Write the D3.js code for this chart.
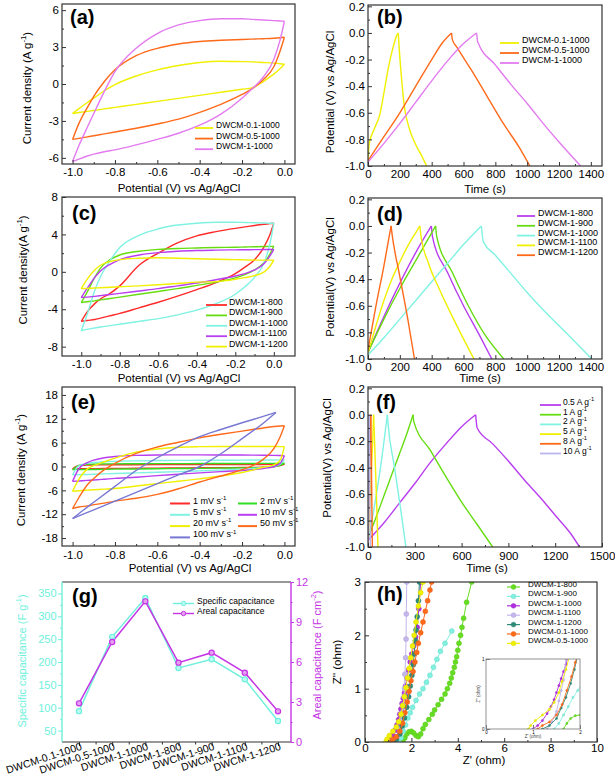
<!DOCTYPE html>
<html><head><meta charset="utf-8">
<script src="https://cdnjs.cloudflare.com/ajax/libs/d3/7.8.5/d3.min.js"></script>
<style>
html,body{margin:0;padding:0;background:#fff;}
svg text{font-family:"Liberation Sans",Arial,Helvetica,sans-serif;}
</style></head>
<body><svg id="chart" width="615" height="775"></svg>
<script>
// ================= DATA =================
const potTicks = [-1.0,-0.8,-0.6,-0.4,-0.2,0.0];
const potMinor = [-0.9,-0.7,-0.5,-0.3,-0.1];
const gcdVTicks = [-1.0,-0.8,-0.6,-0.4,-0.2,0.0,0.2];
const gcdVMinor = [-0.9,-0.7,-0.5,-0.3,-0.1,0.1];
const timeTicks = [0,200,400,600,800,1000,1200,1400];
const timeMinor = [100,300,500,700,900,1100,1300];
const aYTicks = [-6,-3,0,3,6], aYMinor = [-4.5,-1.5,1.5,4.5];
const cYTicks = [-8,-4,0,4,8], cYMinor = [-6,-2,2,6];
const eYTicks = [-18,-12,-6,0,6,12,18], eYMinor = [-15,-9,-3,3,9,15];
const fXTicks = [0,300,600,900,1200,1500], fXMinor = [150,450,750,1050,1350];
const gLTicks = [50,100,150,200,250,300,350], gLMinor = [75,125,175,225,275,325];
const gRTicks = [0,3,6,9,12], gRMinor = [1.5,4.5,7.5,10.5];
const hXTicks = [0,2,4,6,8,10], hXMinor = [1,3,5,7,9];
const hYTicks = [0,1,2,3], hYMinor = [0.5,1.5,2.5];

const cvV = [-1.0,-0.97,-0.93,-0.9,-0.85,-0.8,-0.7,-0.6,-0.5,-0.4,-0.3,-0.2,-0.15,-0.1,-0.05,-0.02,0.0];

// (a)
const aNames = ["DWCM-0.1-1000","DWCM-0.5-1000","DWCM-1-1000"];
const aColors = ["#f0f000","#ff6a1a","#e37bf0"];
const aUp01 = [-2.4,-2.0,-1.5,-1.15,-0.55,-0.05,0.65,1.15,1.5,1.75,1.85,1.82,1.8,1.75,1.7,1.65,1.6];
const aLo01 = [-2.4,-2.32,-2.22,-2.15,-2.02,-1.9,-1.66,-1.41,-1.17,-0.92,-0.67,-0.43,-0.3,0.2,0.8,1.25,1.6];
const aUp05 = [-4.5,-3.2,-1.9,-1.0,0.2,1.15,2.3,2.9,3.25,3.45,3.55,3.62,3.65,3.68,3.72,3.76,3.8];
const aLo05 = [-4.5,-4.42,-4.3,-4.2,-4.05,-3.9,-3.6,-3.25,-2.85,-2.3,-1.65,-0.85,-0.35,0.35,1.4,2.7,3.8];
const aUp1 = [-6.3,-5.0,-3.5,-2.4,-0.6,1.0,2.9,4.1,4.8,5.15,5.3,5.3,5.25,5.2,5.15,5.12,5.1];
const aLo1 = [-6.3,-6.1,-5.85,-5.7,-5.5,-5.35,-4.95,-4.5,-4.0,-3.35,-2.45,-1.15,-0.35,0.55,2.0,3.6,5.1];

// (b)
const bT01 = [0,8,40,75,100,128,155,180,190,198,210,228,260,300,340,368];
const bV01 = [-0.95,-0.83,-0.72,-0.61,-0.45,-0.26,-0.12,-0.02,0,-0.15,-0.33,-0.55,-0.72,-0.84,-0.93,-1.0];
const bT05 = [0,100,200,300,400,470,525,530,560,650,750,850,950,1017];
const bV05 = [-0.96,-0.78,-0.6,-0.4,-0.2,-0.07,0,-0.05,-0.11,-0.28,-0.48,-0.68,-0.86,-1.0];
const bT1 = [0,100,200,300,400,500,600,682,690,800,900,1000,1100,1200,1336];
const bV1 = [-0.97,-0.83,-0.68,-0.52,-0.36,-0.21,-0.08,0,-0.07,-0.24,-0.39,-0.53,-0.68,-0.82,-1.0];

// (c)
const cNames = ["DWCM-1-800","DWCM-1-900","DWCM-1-1000","DWCM-1-1100","DWCM-1-1200"];
const cColors = ["#ff2a2a","#66dd11","#7ff2e2","#b83ef0","#f0f000"];
const cUp800 = [-5.3,-4.3,-3.4,-2.9,-2.3,-1.5,0.7,2.0,3.1,3.85,4.3,4.65,4.8,4.95,5.08,5.15,5.2];
const cLo800 = [-5.3,-5.2,-5.1,-4.95,-4.7,-4.45,-3.85,-3.25,-2.6,-1.9,-1.15,-0.2,0.5,1.3,2.7,4.0,5.2];
const cUp900 = [-3.3,-2.2,-0.6,0.4,1.3,1.8,2.2,2.4,2.5,2.55,2.6,2.62,2.65,2.68,2.7,2.72,2.75];
const cLo900 = [-3.3,-3.2,-3.1,-3.0,-2.85,-2.7,-2.4,-2.1,-1.8,-1.45,-1.1,-0.65,-0.3,0.2,1.0,1.9,2.75];
const cUp1000 = [-6.3,-4.6,-2.0,-0.5,1.2,2.6,3.9,4.6,5.0,5.2,5.3,5.3,5.28,5.25,5.22,5.2,5.2];
const cLo1000 = [-6.3,-6.15,-6.0,-5.9,-5.75,-5.6,-5.3,-5.0,-4.6,-4.1,-3.4,-2.4,-1.6,-0.6,1.0,3.0,5.2];
const cUp1100 = [-2.75,-1.8,-0.6,0.1,0.8,1.3,1.8,2.05,2.2,2.28,2.32,2.35,2.36,2.37,2.38,2.39,2.4];
const cLo1100 = [-2.75,-2.7,-2.62,-2.55,-2.42,-2.3,-2.05,-1.8,-1.5,-1.2,-0.85,-0.45,-0.2,0.2,0.9,1.7,2.4];
const cUp1200 = [-1.8,-0.8,0.2,0.7,1.1,1.3,1.45,1.5,1.45,1.4,1.35,1.3,1.28,1.25,1.25,1.25,1.25];
const cLo1200 = [-1.8,-1.77,-1.73,-1.7,-1.65,-1.6,-1.5,-1.38,-1.25,-1.1,-1.05,-0.8,-0.62,-0.4,0.0,0.6,1.25];

// (d)
const dColors = ["#b83ef0","#66dd11","#7ff2e2","#f0f000","#ff6a1a"];
const dT800 = [0,100,200,300,398,405,500,600,700,778];
const dV800 = [-0.95,-0.68,-0.43,-0.2,0,-0.08,-0.35,-0.6,-0.82,-1.0];
const dT900 = [0,100,200,300,425,432,530,630,730,853];
const dV900 = [-0.95,-0.7,-0.47,-0.26,0,-0.08,-0.35,-0.6,-0.81,-1.0];
const dT1000 = [0,100,200,300,400,500,600,712,725,800,900,1000,1100,1200,1300,1406];
const dV1000 = [-0.97,-0.84,-0.7,-0.56,-0.42,-0.28,-0.14,0,-0.12,-0.22,-0.36,-0.5,-0.63,-0.75,-0.87,-1.0];
const dT1100 = [0,50,100,150,200,250,300,326,332,380,450,550,666];
const dV1100 = [-0.95,-0.75,-0.56,-0.4,-0.27,-0.15,-0.05,0,-0.07,-0.28,-0.48,-0.73,-1.0];
const dT1200 = [0,50,100,145,150,200,250,292];
const dV1200 = [-0.93,-0.6,-0.3,0,-0.05,-0.38,-0.7,-1.0];

// (e)
const eRates = [1,2,5,10,20,50,100];
const eColors = ["#ff2a2a","#33dd22","#7ff2e2","#b83ef0","#f0f000","#ff6a1a","#7777d4"];
const eUp1 = [-0.6,0.25,0.38,0.4,0.42,0.43,0.45,0.46,0.47,0.48,0.49,0.5,0.51,0.52,0.53,0.54,0.55];
const eLo1 = [-0.6,-0.58,-0.56,-0.54,-0.51,-0.48,-0.44,-0.4,-0.36,-0.33,-0.3,-0.27,-0.24,-0.18,0.0,0.25,0.55];
const eUp2 = [-0.8,0.3,0.55,0.6,0.65,0.67,0.7,0.72,0.73,0.74,0.75,0.76,0.77,0.78,0.79,0.8,0.8];
const eLo2 = [-0.8,-0.78,-0.76,-0.74,-0.7,-0.67,-0.62,-0.57,-0.52,-0.47,-0.42,-0.35,-0.3,-0.22,-0.05,0.3,0.8];
const eUp5 = [-2.1,0.2,0.8,1.0,1.2,1.3,1.42,1.5,1.53,1.56,1.58,1.6,1.62,1.63,1.65,1.66,1.67];
const eLo5 = [-2.1,-2.05,-2.0,-1.95,-1.85,-1.75,-1.6,-1.45,-1.3,-1.1,-0.9,-0.65,-0.5,-0.3,0.0,0.6,1.67];
const eUp10 = [-3.75,-0.5,1.0,1.6,2.2,2.5,2.8,2.9,2.92,2.92,2.9,2.88,2.86,2.83,2.8,2.75,2.7];
const eLo10 = [-3.75,-3.65,-3.5,-3.4,-3.2,-3.0,-2.7,-2.3,-1.95,-1.6,-1.3,-1.0,-0.8,-0.5,0.0,0.8,2.7];
const eUp20 = [-6.25,-3.2,-0.6,0.2,1.2,2.1,3.6,4.4,4.85,5.0,5.05,5.05,5.05,5.05,5.05,5.0,5.0];
const eLo20 = [-6.25,-6.1,-5.95,-5.85,-5.7,-5.55,-4.9,-4.3,-3.7,-3.1,-2.4,-1.5,-0.9,-0.2,0.4,1.6,5.0];
const eUp50 = [-10.6,-7.8,-4.6,-3.0,-0.8,0.8,3.3,4.9,6.1,7.2,8.1,8.9,9.3,9.7,10.05,10.2,10.25];
const eLo50 = [-10.6,-10.2,-9.9,-9.6,-9.2,-8.7,-8.0,-7.0,-5.6,-3.9,-2.4,-0.8,0.2,1.8,4.5,7.5,10.25];
const eV100 = [-1.0,-0.95,-0.9,-0.8,-0.7,-0.6,-0.5,-0.4,-0.3,-0.2,-0.1,-0.04];
const eUp100 = [-13.1,-11.0,-9.0,-5.0,-1.0,2.2,5.0,7.5,9.3,11.0,12.6,13.6];
const eLo100 = [-13.1,-12.0,-10.9,-8.7,-6.5,-4.3,-2.1,0.0,3.2,7.0,10.9,13.6];

// (f)
const fRates = ["0.5","1","2","5","8","10"];
const fColors = ["#b83ef0","#66dd11","#7ff2e2","#f0f000","#ff6a1a","#b9b6f0"];
const fT05 = [0,100,200,300,400,500,600,690,700,800,900,1000,1100,1200,1300,1356];
const fV05 = [-0.95,-0.82,-0.67,-0.52,-0.36,-0.22,-0.09,0,-0.1,-0.22,-0.35,-0.49,-0.62,-0.76,-0.9,-1.0];
const fT1 = [0,50,100,150,200,250,289,293,400,500,600,700,799];
const fV1 = [-0.93,-0.78,-0.62,-0.46,-0.3,-0.14,0,-0.05,-0.27,-0.47,-0.66,-0.83,-1.0];
const fT2 = [0,40,80,124,128,170,210,243];
const fV2 = [-0.95,-0.7,-0.4,0,-0.06,-0.4,-0.72,-1.0];
const fT5 = [0,15,30,36,45,55,64];
const fV5 = [-0.97,-0.6,-0.2,0,-0.3,-0.65,-1.0];
const fT8 = [0,10,18,22,28];
const fV8 = [-0.97,-0.5,0,-0.4,-1.0];
const fT10 = [0,8,15];
const fV10 = [-0.98,0,-1.0];

// (g)
const gCats = ["DWCM-0.1-1000","DWCM-0.5-1000","DWCM-1-1000","DWCM-1-800","DWCM-1-900","DWCM-1-1100","DWCM-1-1200"];
const gSpecific = [92.5,255,340,187,206,162,71];
const gAreal = [2.9,7.5,10.55,5.95,6.7,5.2,2.3];

// (h)
const hNames = ["DWCM-1-800","DWCM-1-900","DWCM-1-1000","DWCM-1-1100","DWCM-1-1200","DWCM-0.1-1000","DWCM-0.5-1000"];
const hColors = ["#66dd22","#80f0e0","#b02ee0","#c4b6ec","#2e8b78","#ff6a1a","#f0f000"];
const hX800 = [1.65,1.72,1.8,1.9,2.0,2.1,2.2,2.3,2.4,2.5,2.6,2.75,2.9,3.0,3.15,3.3,3.45,3.55,3.65,3.72,3.78,3.85,3.9,3.95,4.0,4.05,4.12,4.18,4.25,4.38,4.6];
const hY800 = [0,0.08,0.15,0.19,0.2,0.17,0.12,0.1,0.15,0.25,0.33,0.42,0.52,0.6,0.7,0.8,0.9,1.0,1.1,1.2,1.3,1.4,1.5,1.6,1.72,1.85,2.0,2.15,2.32,2.62,3.0];
const hX900 = [1.45,1.55,1.65,1.75,1.85,1.95,2.05,2.2,2.35,2.5,2.65,2.8,2.95,3.1,3.25,3.45,3.74];
const hY900 = [0,0.08,0.2,0.32,0.45,0.55,0.65,0.78,0.9,1.0,1.12,1.25,1.4,1.55,1.7,1.85,2.08];
const hX1000 = [1.0,1.1,1.2,1.3,1.38,1.45,1.5,1.55,1.6,1.65,1.7,1.75,1.8,1.88,1.95,2.02,2.1,2.18,2.25,2.32,2.4];
const hY1000 = [0,0.05,0.12,0.22,0.32,0.42,0.52,0.62,0.72,0.82,0.92,1.05,1.2,1.35,1.5,1.65,1.8,1.97,2.15,2.5,3.0];
const hX1100 = [1.3,1.4,1.5,1.55,1.6,1.65,1.68,1.7,1.72,1.75,1.77,1.78,1.8];
const hY1100 = [0,0.1,0.25,0.4,0.55,0.7,0.85,1.0,1.27,1.58,1.93,2.4,3.0];
const hX1200 = [1.2,1.35,1.5,1.6,1.7,1.8,1.88,1.95,2.02,2.08,2.12,2.17,2.2,2.25,2.3,2.35];
const hY1200 = [0,0.05,0.15,0.3,0.45,0.65,0.85,1.05,1.25,1.45,1.65,1.9,2.1,2.35,2.65,3.0];
const hX01 = [1.1,1.2,1.35,1.5,1.62,1.72,1.82,1.9,1.98,2.07,2.15,2.23,2.3,2.4,2.5,2.6,2.7,2.8,2.87];
const hY01 = [0,0.05,0.1,0.2,0.35,0.55,0.75,0.95,1.15,1.32,1.5,1.68,1.85,2.05,2.25,2.45,2.65,2.85,3.0];
const hX05 = [0.9,0.95,1.05,1.2,1.35,1.45,1.55,1.62,1.7,1.77,1.83,1.9,1.97,2.05,2.12,2.2,2.3,2.4,2.5];
const hY05 = [0,0.05,0.12,0.2,0.28,0.38,0.52,0.68,0.85,1.02,1.2,1.38,1.58,1.8,2.0,2.25,2.55,2.8,3.0];

// ================= DRAWING =================
const svg = d3.select("#chart");
const FS = 11.5;
const FRAME = "#333";

function makePanel(id, L, R, T, B, xd, yd) {
  const x = d3.scaleLinear().domain(xd).range([L, R]);
  const y = d3.scaleLinear().domain(yd).range([B, T]);
  svg.append("clipPath").attr("id", "cp" + id).append("rect")
    .attr("x", L).attr("y", T).attr("width", R - L).attr("height", B - T);
  const plot = svg.append("g").attr("clip-path", `url(#cp${id})`);
  return {L, R, T, B, x, y, plot};
}
function frame(P, color = FRAME, w = 1.2) {
  svg.append("rect").attr("x", P.L).attr("y", P.T).attr("width", P.R - P.L).attr("height", P.B - P.T)
    .attr("fill", "none").attr("stroke", color).attr("stroke-width", w);
}
function axisB(P, scale, major, minor, fmt, pad, dir = -1, size = FS, color = FRAME) {
  const g = svg.append("g").attr("transform", `translate(0,${P.B})`)
    .call(d3.axisBottom(scale).tickValues(major).tickFormat(fmt).tickSizeInner(4 * dir).tickSizeOuter(0).tickPadding(pad));
  g.select(".domain").remove();
  g.attr("font-size", size);
  g.selectAll("line").attr("stroke", color);
  if (minor) {
    const m = svg.append("g").attr("transform", `translate(0,${P.B})`)
      .call(d3.axisBottom(scale).tickValues(minor).tickFormat("").tickSizeInner(2 * dir).tickSizeOuter(0));
    m.select(".domain").remove(); m.selectAll("line").attr("stroke", color);
  }
  return g;
}
function axisL(P, scale, major, minor, fmt, pad, dir = -1, size = FS, color = FRAME) {
  const g = svg.append("g").attr("transform", `translate(${P.L},0)`)
    .call(d3.axisLeft(scale).tickValues(major).tickFormat(fmt).tickSizeInner(4 * dir).tickSizeOuter(0).tickPadding(pad));
  g.select(".domain").remove();
  g.attr("font-size", size);
  g.selectAll("line").attr("stroke", color);
  if (minor) {
    const m = svg.append("g").attr("transform", `translate(${P.L},0)`)
      .call(d3.axisLeft(scale).tickValues(minor).tickFormat("").tickSizeInner(2 * dir).tickSizeOuter(0));
    m.select(".domain").remove(); m.selectAll("line").attr("stroke", color);
  }
  return g;
}
function addParts(t, parts, size) {
  let back = 0;
  parts.forEach(p => {
    if (typeof p === "string") { t.append("tspan").attr("dy", back).text(p); back = 0; }
    else { t.append("tspan").attr("font-size", size * 0.68).attr("dy", -size * 0.42).text(p.sup); back = size * 0.42; }
  });
}
function htitle(cx, by, parts, size = FS, color = "#000") {
  const t = svg.append("text").attr("x", cx).attr("y", by).attr("text-anchor", "middle")
    .attr("font-size", size).attr("fill", color);
  addParts(t, parts, size);
}
function vtitle(bx, cy, parts, size = FS, color = "#000") {
  const t = svg.append("text").attr("transform", `translate(${bx},${cy}) rotate(-90)`)
    .attr("text-anchor", "middle").attr("font-size", size).attr("fill", color);
  addParts(t, parts, size);
}
function plabel(x, y, s) {
  svg.append("text").attr("x", x).attr("y", y).attr("font-size", 20).attr("font-weight", "bold").text(s);
}
function drawCV(P, V, up, lo, color, lw = 1.4) {
  const ln = d3.line().x(d => P.x(d[0])).y(d => P.y(d[1])).curve(d3.curveMonotoneX);
  [up, lo].forEach(arr => {
    P.plot.append("path").attr("d", ln(V.map((v, i) => [v, arr[i]])))
      .attr("fill", "none").attr("stroke", color).attr("stroke-width", lw);
  });
}
function drawGCD(P, T, Vv, color, lw = 1.4) {
  const pk = d3.maxIndex(Vv);
  const pts = T.map((t, i) => [t, Vv[i]]);
  const ln = d3.line().x(d => P.x(d[0])).y(d => P.y(d[1])).curve(d3.curveMonotoneX);
  [pts.slice(0, pk + 1), pts.slice(pk)].forEach(seg => {
    P.plot.append("path").attr("d", ln(seg)).attr("fill", "none").attr("stroke", color).attr("stroke-width", lw);
  });
}
function legendLine(x1, x2, tx, cy, color, parts, size, lw = 1.8) {
  svg.append("line").attr("x1", x1).attr("x2", x2).attr("y1", cy).attr("y2", cy)
    .attr("stroke", color).attr("stroke-width", lw);
  const t = svg.append("text").attr("x", tx).attr("y", cy).attr("dy", "0.35em").attr("font-size", size);
  addParts(t, Array.isArray(parts) ? parts : [parts], size);
}
const f1 = d => d.toFixed(1);
const f0 = d => String(d);
const curTitle = ["Current density (A g", {sup: "-1"}, ")"];

// ---------- (a) ----------
const A = makePanel("a", 62, 295, 4, 164, [-1.05, 0.05], [-6.5, 6.5]);
[[aUp01, aLo01], [aUp05, aLo05], [aUp1, aLo1]].forEach((s, i) => drawCV(A, cvV, s[0], s[1], aColors[i]));
frame(A);
axisB(A, A.x, potTicks, potMinor, f1, 4);
axisL(A, A.y, aYTicks, aYMinor, f0, 3);
vtitle(31, 88, curTitle);
htitle(179, 192, ["Potential (V) vs Ag/AgCl"]);
aNames.forEach((n, i) => legendLine(195, 213, 216, 128 + i * 10.6, aColors[i], n, 8.5));
plabel(70, 24, "(a)");

// ---------- (b) ----------
const B = makePanel("b", 368, 602, 5, 166, [0, 1470], [-1.0, 0.21]);
[[bT01, bV01], [bT05, bV05], [bT1, bV1]].forEach((s, i) => drawGCD(B, s[0], s[1], aColors[i]));
frame(B);
axisB(B, B.x, timeTicks, timeMinor, f0, 4);
axisL(B, B.y, gcdVTicks, gcdVMinor, f1, 3);
vtitle(334, 92, ["Potential (V) vs Ag/AgCl"]);
htitle(485, 193, ["Time (s)"]);
aNames.forEach((n, i) => legendLine(500, 519, 522, 43 + i * 10, aColors[i], n, 9));
plabel(377, 24, "(b)");

// ---------- (c) ----------
const C = makePanel("c", 62, 295, 197, 356, [-1.1, 0.11], [-9, 8]);
[[cUp800, cLo800], [cUp900, cLo900], [cUp1000, cLo1000], [cUp1100, cLo1100], [cUp1200, cLo1200]]
  .forEach((s, i) => drawCV(C, cvV, s[0], s[1], cColors[i]));
frame(C);
axisB(C, C.x, potTicks, potMinor, f1, 4);
axisL(C, C.y, cYTicks, cYMinor, f0, 4);
vtitle(27, 270, ["Current density(A g", {sup: "-1"}, ")"]);
htitle(179, 382, ["Potential (V) vs Ag/AgCl"]);
cNames.forEach((n, i) => legendLine(206, 227, 229, 305 + i * 10.4, cColors[i], n, 8.8));
plabel(72, 220, "(c)");

// ---------- (d) ----------
const D = makePanel("d", 368, 602, 198, 359, [0, 1470], [-1.0, 0.21]);
[[dT800, dV800], [dT900, dV900], [dT1000, dV1000], [dT1100, dV1100], [dT1200, dV1200]]
  .forEach((s, i) => drawGCD(D, s[0], s[1], dColors[i]));
frame(D);
axisB(D, D.x, timeTicks, timeMinor, f0, 4);
axisL(D, D.y, gcdVTicks, gcdVMinor, f1, 3);
vtitle(334, 277, ["Potential(V) vs Ag/AgCl"]);
htitle(480, 382, ["Time (s)"]);
cNames.forEach((n, i) => legendLine(517, 535, 538, 216 + i * 9.8, dColors[i], n, 9));
plabel(377, 221, "(d)");

// ---------- (e) ----------
const E = makePanel("e", 62, 295, 387, 546, [-1.05, 0.05], [-20, 20]);
[[eUp1, eLo1], [eUp2, eLo2], [eUp5, eLo5], [eUp10, eLo10], [eUp20, eLo20], [eUp50, eLo50]]
  .forEach((s, i) => drawCV(E, cvV, s[0], s[1], eColors[i]));
drawCV(E, eV100, eUp100, eLo100, eColors[6]);
frame(E);
axisB(E, E.x, potTicks, potMinor, f1, 5);
axisL(E, E.y, eYTicks, eYMinor, f0, 4);
vtitle(25, 470, curTitle);
htitle(190, 572, ["Potential (V) vs Ag/AgCl"]);
eRates.forEach((r, i) => {
  const col = i % 2, row = Math.floor(i / 2);
  const x1 = col ? 238 : 170, x2 = col ? 257 : 190, tx = col ? 260 : 193;
  legendLine(x1, x2, tx, 503.5 + row * 11.3, eColors[i], [r + " mV s", {sup: "-1"}], 9, 2);
});
plabel(71, 409, "(e)");

// ---------- (f) ----------
const F = makePanel("f", 368, 602, 387, 547, [0, 1500], [-1.0, 0.21]);
[[fT05, fV05], [fT1, fV1], [fT2, fV2], [fT5, fV5], [fT8, fV8], [fT10, fV10]]
  .forEach((s, i) => drawGCD(F, s[0], s[1], fColors[i]));
frame(F);
axisB(F, F.x, fXTicks, fXMinor, f0, 4.5);
axisL(F, F.y, gcdVTicks, gcdVMinor, f1, 3);
vtitle(331, 458, ["Potential(V) vs Ag/AgCl"]);
htitle(487, 572, ["Time (s)"]);
fRates.forEach((r, i) => legendLine(540, 561, 563, 405 + i * 9.7, fColors[i], [r + " A g", {sup: "-1"}], 8.5, 1.8));
plabel(376, 409, "(f)");

// ---------- (g) ----------
const G = {L: 62, R: 291, T: 582, B: 742};
const gx = d3.scalePoint().domain(gCats).range([79, 278]);
const gxl = d3.scaleLinear().domain([0, 6]).range([79, 278]);
const gyL = d3.scaleLinear().domain([25, 375]).range([G.B, G.T]);
const gyR = d3.scaleLinear().domain([0, 12]).range([G.B, G.T]);
const CYAN = "#6ff0dc", MAG = "#c534e6";
const lnS = d3.line().x((d, i) => gx(gCats[i])).y(d => gyL(d));
const lnA = d3.line().x((d, i) => gx(gCats[i])).y(d => gyR(d));
svg.append("path").attr("d", lnS(gSpecific)).attr("fill", "none").attr("stroke", CYAN).attr("stroke-width", 1.5);
svg.append("path").attr("d", lnA(gAreal)).attr("fill", "none").attr("stroke", MAG).attr("stroke-width", 1.5);
svg.selectAll(".gs").data(gSpecific).enter().append("circle")
  .attr("cx", (d, i) => gx(gCats[i])).attr("cy", d => gyL(d)).attr("r", 2.6)
  .attr("fill", "#b8fbf1").attr("stroke", CYAN).attr("stroke-width", 1.2);
svg.selectAll(".ga").data(gAreal).enter().append("circle")
  .attr("cx", (d, i) => gx(gCats[i])).attr("cy", d => gyR(d)).attr("r", 2.6)
  .attr("fill", "#e6a0f2").attr("stroke", MAG).attr("stroke-width", 1.2);
svg.append("line").attr("x1", G.L).attr("x2", G.R).attr("y1", G.T).attr("y2", G.T).attr("stroke", FRAME).attr("stroke-width", 1.2);
svg.append("line").attr("x1", G.L).attr("x2", G.R).attr("y1", G.B).attr("y2", G.B).attr("stroke", FRAME).attr("stroke-width", 1.2);
svg.append("line").attr("x1", G.L).attr("x2", G.L).attr("y1", G.T).attr("y2", G.B).attr("stroke", CYAN).attr("stroke-width", 1.4);
svg.append("line").attr("x1", G.R).attr("x2", G.R).attr("y1", G.T).attr("y2", G.B).attr("stroke", MAG).attr("stroke-width", 1.4);
const gb = axisB(G, gx, gCats, null, d => d, 4, 1, 10.5);
svg.append("g").attr("transform", `translate(0,${G.B})`)
  .call(d3.axisBottom(gxl).tickValues([0.5, 1.5, 2.5, 3.5, 4.5, 5.5]).tickFormat("").tickSizeInner(2.5).tickSizeOuter(0))
  .call(g => { g.select(".domain").remove(); g.selectAll("line").attr("stroke", FRAME); });
gb.selectAll("text").attr("text-anchor", "end").attr("dy", null).attr("y", 0)
  .attr("transform", "translate(3,7.5) rotate(-18)");
const gl = axisL(G, gyL, gLTicks, gLMinor, f0, 1.5, 1, 11, CYAN);
gl.selectAll("text").attr("fill", CYAN);
const gr = svg.append("g").attr("transform", `translate(${G.R},0)`)
  .call(d3.axisRight(gyR).tickValues(gRTicks).tickSizeInner(3).tickSizeOuter(0).tickPadding(2));
gr.select(".domain").remove();
gr.attr("font-size", 11);
gr.selectAll("line").attr("stroke", MAG);
gr.selectAll("text").attr("fill", MAG);
svg.append("g").attr("transform", `translate(${G.R},0)`)
  .call(d3.axisRight(gyR).tickValues(gRMinor).tickFormat("").tickSizeInner(1.5).tickSizeOuter(0))
  .call(g => { g.select(".domain").remove(); g.selectAll("line").attr("stroke", MAG); });
vtitle(26, 661, ["Specific capacitance (F g", {sup: "-1"}, ")"], 11, CYAN);
vtitle(321, 655, ["Areal capacitance (F cm", {sup: "-2"}, ")"], 11, MAG);
[["Specific capacitance", CYAN, "#b8fbf1"], ["Areal capacitance", MAG, "#e6a0f2"]].forEach((d, i) => {
  const cy = 603.5 + i * 10;
  legendLine(173, 194, 197, cy, d[1], d[0], 8.5, 1.4);
  svg.append("circle").attr("cx", 183.5).attr("cy", cy).attr("r", 2.2).attr("fill", d[2]).attr("stroke", d[1]).attr("stroke-width", 1);
});
plabel(72, 603, "(g)");

// ---------- (h) ----------
const Hp = makePanel("h", 365, 597, 582, 742, [0, 10], [0, 3]);
const hSeries = [[hX800, hY800], [hX900, hY900], [hX1000, hY1000], [hX1100, hY1100], [hX1200, hY1200], [hX01, hY01], [hX05, hY05]];
function drawNyq(P, r, lw) {
  hSeries.forEach((s, i) => {
    const pts = s[0].map((v, k) => [v, s[1][k]]);
    const ln = d3.line().x(d => P.x(d[0])).y(d => P.y(d[1]));
    P.plot.append("path").attr("d", ln(pts)).attr("fill", "none").attr("stroke", hColors[i]).attr("stroke-width", lw);
    P.plot.selectAll(null).data(pts).enter().append("circle")
      .attr("cx", d => P.x(d[0])).attr("cy", d => P.y(d[1])).attr("r", r)
      .attr("fill", hColors[i]).attr("stroke", d3.color(hColors[i]).darker(0.3)).attr("stroke-width", 0.5);
  });
}
drawNyq(Hp, 2.5, 1);
frame(Hp);
axisB(Hp, Hp.x, hXTicks, hXMinor, f0, 2);
axisL(Hp, Hp.y, hYTicks, hYMinor, f0, 4);
vtitle(341, 662, ["Z'' (ohm)"]);
htitle(484, 764, ["Z' (ohm)"]);
hNames.forEach((n, i) => {
  const cy = 587 + i * 9.4;
  legendLine(507, 520, 528, cy, hColors[i], n, 8, 1.2);
  svg.append("circle").attr("cx", 513.5).attr("cy", cy).attr("r", 2.4).attr("fill", hColors[i])
    .attr("stroke", d3.color(hColors[i]).darker(0.3)).attr("stroke-width", 0.5);
});
plabel(377, 601, "(h)");
svg.append("rect").attr("x", 486).attr("y", 659).attr("width", 94).attr("height", 70).attr("fill", "#fff");
const HI = makePanel("hi", 486, 580, 659, 729, [0, 2], [0, 1]);
drawNyq(HI, 1.1, 0.9);
frame(HI, "#777", 0.8);
axisB(HI, HI.x, [0, 1, 2], null, f0, 1.5, -1, 4.5, "#777");
axisL(HI, HI.y, [0, 1], null, f0, 1.5, -1, 4.5, "#777");
htitle(533, 738, ["Z' (ohm)"], 4.5, "#444");
vtitle(480, 694, ["Z'' (ohm)"], 4.5, "#444");
</script></body></html>
